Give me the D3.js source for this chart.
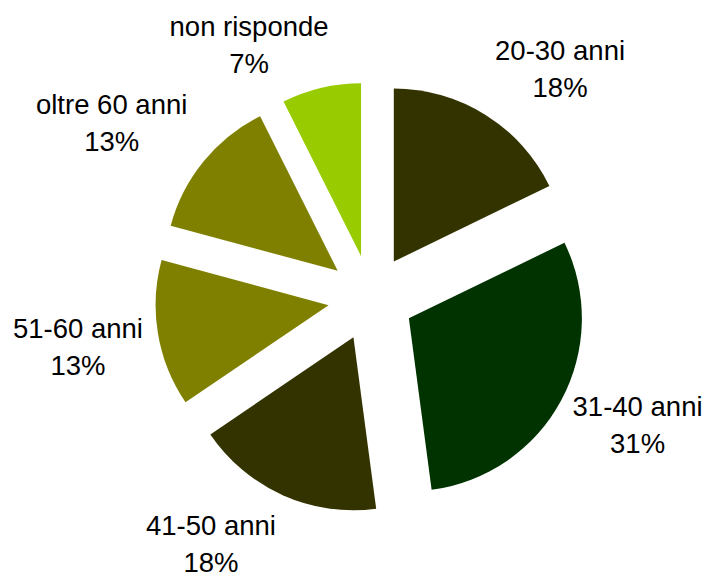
<!DOCTYPE html>
<html><head><meta charset="UTF-8">
    <title>Età degli intervistati</title>
    <script src="https://cdn.jsdelivr.net/npm/d3@7/dist/d3.min.js"></script>
    <style>
      body {
        margin: 0;
        background: #fff;
      }
      svg {
        display: block;
      }
      .label {
        font-family: Arial, "Liberation Sans", sans-serif;
        font-size: 27.5px;
        fill: #000;
      }
    </style>
  </head>
  <body>

    <svg width="707" height="577">
      <g id="drawing-area">
        <g id="slice-container"></g>
        <g id="label-container"></g>
      </g>
    </svg>

  <script>
    //begin: data
    var categories = ["20-30 anni", "31-40 anni", "41-50 anni", "51-60 anni", "oltre 60 anni", "non risponde"];
    var shares = [17.8, 30.1, 17.6, 13.7, 13.4, 7.4];   // slice sizes
    var pctLabels = ["18%", "31%", "18%", "13%", "13%", "7%"];
    var colors = ["#333300", "#003300", "#333300", "#808000", "#808000", "#99CC00"];
    //end: data

    //begin: layout conf.
    var width = 707,
        height = 577,
        cx = 371,
        cy = 298,
        radius = 173,
        explode = 43,
        labelDist = 297,
        lineGap = 37;
    // excel shifts some labels off the bisector to make room
    var labelTurn = [7.5, -2.9, 9, 0.2, -5.2, -12.4],
        labelDistFix = [0, -2, -4, 0, 16, -16];
    //end: layout conf.

    var rows = categories.map(function(c, i){
      return {name: c, value: shares[i], pct: pctLabels[i], color: colors[i], i: i};
    });

    var pie = d3.pie()
      .sort(null)
      .value(function(d){ return d.value; })
      .startAngle(0)
      .endAngle(2*Math.PI);

    var arc = d3.arc()
      .innerRadius(0)
      .outerRadius(radius);

    var arcs = pie(rows);

    function midAngle(d) { return (d.startAngle + d.endAngle)/2; }

    var drawingArea = d3.select("#drawing-area")
      .attr("transform", "translate(" + [cx, cy] + ")");

    //begin: draw slices
    d3.select("#slice-container").selectAll(".slice")
      .data(arcs)
      .enter()
      .append("path")
        .classed("slice", true)
        .attr("fill", function(d){ return d.data.color; })
        .attr("transform", function(d){
          var a = midAngle(d);
          return "translate(" + [explode*Math.sin(a), -explode*Math.cos(a)] + ")";
        })
        .attr("d", arc);
    //end: draw slices

    //begin: draw labels
    var labels = d3.select("#label-container").selectAll(".label")
      .data(arcs)
      .enter()
      .append("text")
        .classed("label", true)
        .attr("text-anchor", "middle")
        .each(function(d){
          var i = d.data.i,
              a = midAngle(d) + labelTurn[i]*Math.PI/180,
              r = labelDist + labelDistFix[i],
              x = r*Math.sin(a),
              y = -r*Math.cos(a);
          var t = d3.select(this);
          t.append("tspan").attr("x", x).attr("y", y - 8.5).text(d.data.name);
          t.append("tspan").attr("x", x).attr("y", y - 8.5 + lineGap).text(d.data.pct);
        });
    //end: draw labels
  </script>

</body></html>
